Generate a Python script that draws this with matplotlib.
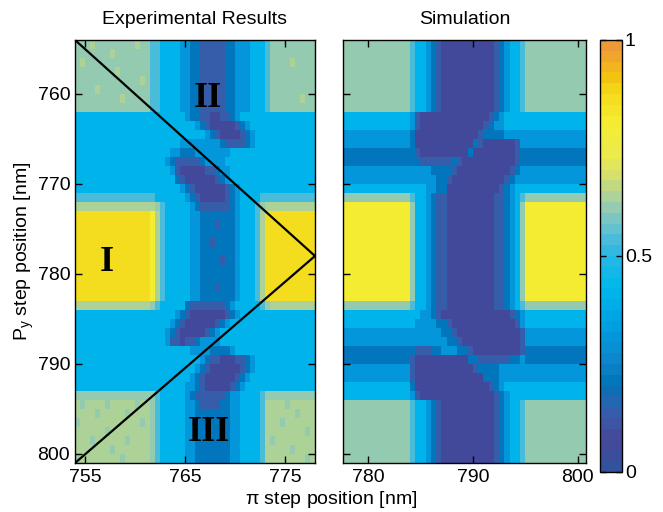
import numpy as np
import matplotlib
matplotlib.use("Agg")
import matplotlib.pyplot as plt
from matplotlib.colors import LinearSegmentedColormap, ListedColormap

plt.rcParams["font.family"] = ["Liberation Sans", "DejaVu Sans"]
plt.rcParams["mathtext.default"] = "regular"

# value for each digit used in the grids below
LEVELS = [0.06, 0.14, 0.22, 0.31, 0.42, 0.54, 0.60, 0.645, 0.81, 0.87]

# colour bar (position, rgb)
CMAP_POS = [0.0, 0.066, 0.135, 0.19, 0.25, 0.33, 0.425, 0.50, 0.54, 0.58,
            0.62, 0.656, 0.695, 0.74, 0.82, 0.89, 0.92, 0.96, 1.0]
CMAP_RGB = [(0.20, 0.32, 0.62), (0.28, 0.28, 0.60), (0.20, 0.38, 0.68),
            (0.00, 0.45, 0.72), (0.05, 0.52, 0.80), (0.00, 0.62, 0.88),
            (0.00, 0.72, 0.93), (0.15, 0.72, 0.90), (0.30, 0.74, 0.85),
            (0.45, 0.77, 0.78), (0.60, 0.80, 0.68), (0.72, 0.84, 0.55),
            (0.85, 0.88, 0.42), (0.92, 0.92, 0.30), (0.96, 0.93, 0.20),
            (0.96, 0.85, 0.10), (0.95, 0.78, 0.05), (0.95, 0.68, 0.15),
            (0.93, 0.60, 0.22)]

# experimental map, 1 nm rows (754..801), 0.5 nm columns (754..778)
EXP_ROWS = [
    "666766666666766 554444332211111223334445 666666666",
    "666666676666666 554444332211111223334445 666666666",
    "676666666666666 554444332211111223334445 666676666",
    "666666667666666 554444332211111223334445 666666666",
    "666666666666676 554444332211111223334445 666666666",
    "666676666666666 554444332211111223334445 666666666",
    "666666666766666 554444332211111223334445 666666766",
    "666666666666666 554444332211111223334445 666666666",
    "444444444444444 444444432211001123444444 444444444",
    "444444444444444 444444444321000001234444 444444444",
    "444444444444444 444444444443210000123444 444444444",
    "444444444444444 444444333333332111123444 444444444",
    "444444444444444 444433222333333344444444 444444444",
    "444444444444444 444321111123333444444444 444444444",
    "444444444444444 444431000001123344444444 444444444",
    "444444444444444 444442100000012344444444 444444444",
    "444444444444444 444444321000000123444444 444444444",
    "555555555555555 544444432100000123444455 555555555",
    "777777777777777 765444443211111123444567 777777777",
    "999999999999999 875444443322222223444579 999999999",
    "999999999999999 875444443322212223444579 999999999",
    "999999999999999 875444443322222223444579 999999999",
    "999999999999999 875444443322122223444579 999999999",
    "999999999999999 875444443322222223444579 999999999",
    "999999999999999 875444443322221223444579 999999999",
    "999999999999999 875444443322222223444579 999999999",
    "999999999999999 875444443322222223444579 999999999",
    "999999999999999 875444443322212223444579 999999999",
    "999999999999999 875444443322222223444579 999999999",
    "777777777777777 654444421111111234444456 777777777",
    "444444444444444 444443210000000123444444 444444444",
    "444444444444444 444432100000012344444444 444444444",
    "444444444444444 444321000001234444444444 444444444",
    "444444444444444 444311011233334444444444 444444444",
    "444444444444444 444444443333222234444444 444444444",
    "444444444444444 444444444432110001123444 444444444",
    "444444444444444 444444444321000000123444 444444444",
    "444444444444444 444444443210000001234444 444444444",
    "444444444444444 444444433210000012344444 444444444",
    "666666666666666 654444432111111233444456 666666666",
    "767777677777677 654444433211112233444457 777677777",
    "777767777767777 654444433222222233444457 777776777",
    "677777777777767 654444433222222233444457 776777777",
    "777777677777777 654444433222222233444457 777777767",
    "777677777767777 654444433222222233444457 677777777",
    "777777767777777 654444433222222233444457 777767777",
    "677777777677777 654444433222222233444457 777777767",
]

# simulated map, 1 nm rows (754..801), 0.5 nm columns (777.5..801)
SIM_ROWS = [
    "6666666666666 5443210000000000123445 666666666666",
    "6666666666666 5443210000000000123445 666666666666",
    "6666666666666 5443210000000000123445 666666666666",
    "6666666666666 5443210000000000123445 666666666666",
    "6666666666666 5443210000000000123445 666666666666",
    "6666666666666 5443210000000000123445 666666666666",
    "6666666666666 5443210000000000123445 666666666666",
    "6666666666666 5443210000000000123445 666666666666",
    "4444444444444 3100000000000001234444 444444444444",
    "4444444444444 3100000000000012334444 444444444444",
    "3333333333333 2000000000000122223333 333333333333",
    "3333333333333 2000000000002100000013 333333333333",
    "2222222222222 2100000000020000000012 222222222222",
    "2222222222222 2211111121000000000012 222222222222",
    "3333333333333 3333222210000000000123 333333333333",
    "3333333333333 3333322100000000001233 333333333333",
    "4444444444444 4443322000000000012344 444444444444",
    "6666666666666 5443211000000000112345 666666666666",
    "8888888888888 6443211000000000112346 888888888888",
    "8888888888888 6443211000000000112346 888888888888",
    "8888888888888 6443211000000000112346 888888888888",
    "8888888888888 6443211000000000112346 888888888888",
    "8888888888888 6443211000000000112346 888888888888",
    "8888888888888 6443211000000000112346 888888888888",
    "8888888888888 6443211000000000112346 888888888888",
    "8888888888888 6443211000000000112346 888888888888",
    "8888888888888 6443211000000000112346 888888888888",
    "8888888888888 6443211000000000112346 888888888888",
    "8888888888888 6443211000000000112346 888888888888",
    "6666666666666 5443211000000000112345 666666666666",
    "4444444444444 4433210000000000000123 444444444444",
    "4444444444444 4333322100000000000013 444444444444",
    "3333333333333 3333332210000000000001 333333333333",
    "3333333333333 3333333221000000000001 333333333333",
    "2222222222222 2111223332210000000001 222222222222",
    "2222222222222 1000000000022111111223 222222222222",
    "3333333333333 1000000000001222233333 333333333333",
    "3333333333333 1000000000000022233333 333333333333",
    "4444444444444 2000000000000001234444 444444444444",
    "4444444444444 3100000000000000123444 444444444444",
    "6666666666666 5443210000000000123445 666666666666",
    "6666666666666 5443210000000000123445 666666666666",
    "6666666666666 5443210000000000123445 666666666666",
    "6666666666666 5443210000000000123445 666666666666",
    "6666666666666 5443210000000000123445 666666666666",
    "6666666666666 5443210000000000123445 666666666666",
    "6666666666666 5443210000000000123445 666666666666",
]

EXP_EXTENT = (754.0, 778.0, 801.0, 754.0)
SIM_EXTENT = (777.5, 801.0, 801.0, 754.0)
EXP_XLIM = (754.0, 778.0)
SIM_XLIM = (777.6, 800.8)

EXP_XTICKS = [755, 765, 775]
SIM_XTICKS = [780, 790, 800]
YTICKS = [760, 770, 780, 790, 800]
CBAR_TICKS = [0, 0.5, 1]
CBAR_LABELS = ["0", "0.5", "1"]

# guide lines and region labels on the experimental map
LINE_X = [754.0, 778.0, 754.0]
LINE_Y = [754.0, 778.0, 801.0]
REGION_TEXT = ["II", "I", "III"]
REGION_X = [767.25, 757.2, 767.4]
REGION_Y = [761.4, 779.7, 798.6]

FS = 14


def to_grid(rows):
    return np.array([[LEVELS[int(ch)] for ch in row.replace(" ", "")] for row in rows])


cmap = ListedColormap(
    LinearSegmentedColormap.from_list("bar", list(zip(CMAP_POS, CMAP_RGB)))(np.linspace(0, 1, 40))
)

W, H = 663, 512
fig = plt.figure(figsize=(W / 100, H / 100), dpi=100)
ax1 = fig.add_axes([75 / W, 1 - 463 / H, 240 / W, 423 / H])
ax2 = fig.add_axes([343 / W, 1 - 463 / H, 243 / W, 423 / H])
cax = fig.add_axes([600 / W, 1 - 472 / H, 22 / W, 432 / H])

im = ax1.imshow(to_grid(EXP_ROWS), cmap=cmap, vmin=0, vmax=1, extent=EXP_EXTENT,
                aspect="auto", interpolation="nearest")
ax2.imshow(to_grid(SIM_ROWS), cmap=cmap, vmin=0, vmax=1, extent=SIM_EXTENT,
           aspect="auto", interpolation="nearest")

ax1.plot(LINE_X, LINE_Y, color="black", linewidth=1.6)
for t, x, y in zip(REGION_TEXT, REGION_X, REGION_Y):
    ax1.text(x, y, t, family="Liberation Serif", fontweight="bold", fontsize=26,
             ha="center", va="baseline")

for ax, xl, xt, title in [(ax1, EXP_XLIM, EXP_XTICKS, "Experimental Results"),
                          (ax2, SIM_XLIM, SIM_XTICKS, "Simulation")]:
    ax.set_xlim(*xl)
    ax.set_ylim(801, 754)
    ax.set_xticks(xt)
    ax.set_yticks(YTICKS)
    ax.tick_params(direction="in", top=True, right=True, length=5, width=1, labelsize=FS)
    ax.tick_params(axis="x", pad=4)
    ax.tick_params(axis="y", pad=3.5)
    for s in ax.spines.values():
        s.set_linewidth(1)
    ax.set_title(title, fontsize=FS, pad=11.5)
ax2.tick_params(labelleft=False)

cb = fig.colorbar(im, cax=cax, ticks=CBAR_TICKS)
cb.ax.set_yticklabels(CBAR_LABELS)
cb.ax.tick_params(direction="in", left=True, right=True, length=4, width=1, labelsize=FS, pad=2)
cb.outline.set_linewidth(1)

fig.text(0.499, 1 - 499 / H, r"$\pi$ step position [nm]", ha="center", va="center", fontsize=FS)
fig.text(24 / W, 1 - 251 / H, r"P$_{y}$ step position [nm]", ha="center", va="center",
         rotation=90, fontsize=FS)

fig.savefig("out.png", dpi=100)
